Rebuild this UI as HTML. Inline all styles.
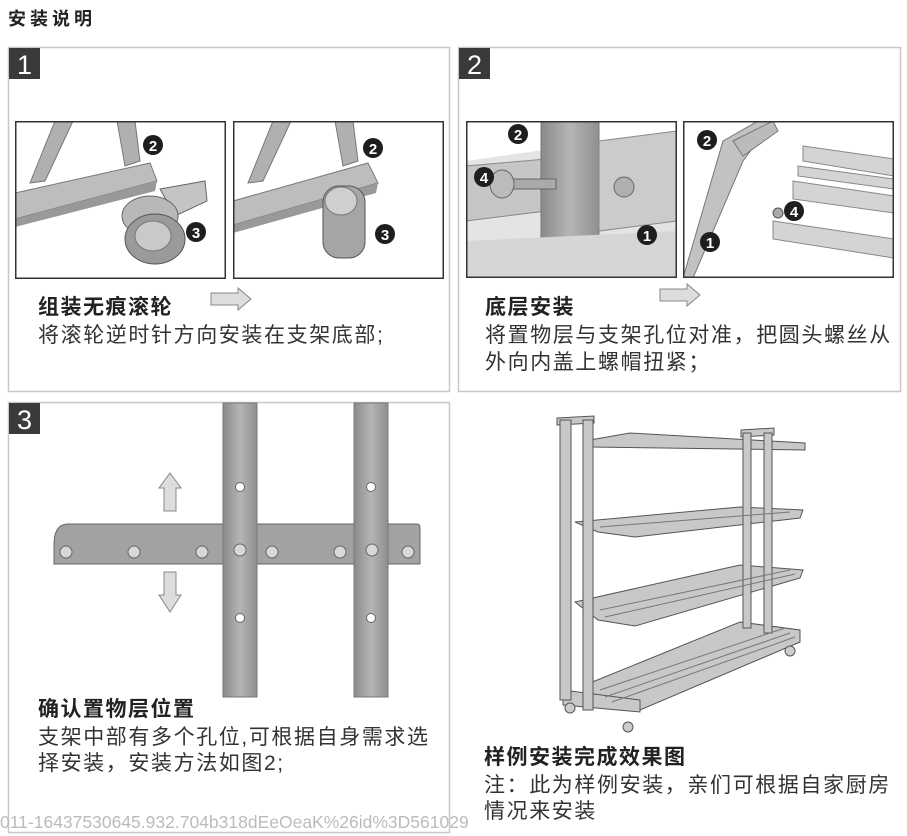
<!DOCTYPE html>
<html><head><meta charset="utf-8"><style>
body{margin:0;background:#fff;width:907px;height:836px;overflow:hidden;position:relative;font-family:"Liberation Sans","Noto Sans CJK SC",sans-serif;color:#333}
.t{position:absolute;white-space:nowrap;line-height:26px}
.b{font-weight:bold;font-size:21px;color:#222;letter-spacing:1.5px}
.n{font-size:21px;color:#333;letter-spacing:1.6px}
</style></head><body>
<svg width="907" height="836" style="position:absolute;left:0;top:0">
<defs>
<linearGradient id="bar" x1="0" x2="1"><stop offset="0" stop-color="#8a8a8a"/><stop offset=".5" stop-color="#b5b5b5"/><stop offset="1" stop-color="#8f8f8f"/></linearGradient>
</defs>
<rect x="8.5" y="47.5" width="441" height="344" fill="none" stroke="#c8c8c8" stroke-width="1.5"/>
<rect x="458.5" y="47.5" width="442" height="344" fill="none" stroke="#c8c8c8" stroke-width="1.5"/>
<rect x="8.5" y="402.5" width="441" height="430" fill="none" stroke="#c8c8c8" stroke-width="1.5"/>
<rect x="9" y="48" width="31" height="31" fill="#3a3a3a"/>
<rect x="459" y="48" width="31" height="31" fill="#3a3a3a"/>
<rect x="9" y="403" width="31" height="31" fill="#3a3a3a"/>
<text x="24.5" y="74" font-size="27" fill="#fff" text-anchor="middle" font-family="Liberation Sans">1</text>
<text x="474.5" y="74" font-size="27" fill="#fff" text-anchor="middle" font-family="Liberation Sans">2</text>
<text x="24.5" y="429" font-size="27" fill="#fff" text-anchor="middle" font-family="Liberation Sans">3</text>

<svg x="15" y="121" width="211" height="158">
<rect width="211" height="158" fill="#fff"/>
<polygon points="40,0 58,0 30,60 15,62" fill="#b0b0b0" stroke="#777"/>
<polygon points="102,0 120,0 125,40 110,45" fill="#b0b0b0" stroke="#777"/>
<polygon points="0,72 135,42 142,60 0,98" fill="#bdbdbd" stroke="#777"/>
<polygon points="0,98 142,60 140,70 0,106" fill="#999"/>
<polygon points="145,68 190,60 192,80 160,95" fill="#c4c4c4" stroke="#666"/>
<ellipse cx="135" cy="95" rx="28" ry="20" fill="#b8b8b8" stroke="#666"/>
<ellipse cx="140" cy="118" rx="30" ry="25" fill="#9a9a9a" stroke="#555"/>
<ellipse cx="138" cy="115" rx="18" ry="15" fill="#c9c9c9" stroke="#777"/>
<circle cx="138" cy="24" r="10" fill="#1e1e1e"/><text x="138" y="30" fill="#fff" font-size="15" font-weight="bold" text-anchor="middle">2</text>
<circle cx="181" cy="111" r="10" fill="#1e1e1e"/><text x="181" y="117" fill="#fff" font-size="15" font-weight="bold" text-anchor="middle">3</text>
<rect x=".75" y=".75" width="209.5" height="156.5" fill="none" stroke="#333" stroke-width="1.5"/>
</svg>
<svg x="233" y="121" width="211" height="158">
<rect width="211" height="158" fill="#fff"/>
<polygon points="40,0 58,0 30,60 15,62" fill="#b0b0b0" stroke="#777"/>
<polygon points="102,0 120,0 125,40 110,45" fill="#b0b0b0" stroke="#777"/>
<polygon points="0,80 135,42 145,62 0,104" fill="#bdbdbd" stroke="#777"/>
<polygon points="0,104 145,62 143,72 0,112" fill="#999"/>
<rect x="90" y="65" width="42" height="72" rx="16" fill="#a5a5a5" stroke="#555"/>
<ellipse cx="108" cy="80" rx="16" ry="14" fill="#cfcfcf" stroke="#777"/>
<circle cx="152" cy="113" r="10" fill="#1e1e1e"/><text x="152" y="119" fill="#fff" font-size="15" font-weight="bold" text-anchor="middle">3</text>
<circle cx="140" cy="27" r="10" fill="#1e1e1e"/><text x="140" y="33" fill="#fff" font-size="15" font-weight="bold" text-anchor="middle">2</text>
<rect x=".75" y=".75" width="209.5" height="156.5" fill="none" stroke="#333" stroke-width="1.5"/>
</svg>
<polygon points="211,293 238,293 238,288 251,299 238,310 238,305 211,305" fill="#ddd" stroke="#888"/>
<polygon points="660,289 687,289 687,284 700,295 687,306 687,301 660,301" fill="#ddd" stroke="#888"/>

<svg x="466" y="121" width="211" height="157">
<rect width="211" height="157" fill="#fff"/>
<polygon points="0,40 211,10 211,110 0,130" fill="#e4e4e4"/>
<polygon points="0,45 80,38 80,90 0,100" fill="#c6c6c6" stroke="#888"/>
<rect x="75" y="0" width="58" height="145" fill="url(#bar)" stroke="#777"/>
<polygon points="133,20 211,10 211,100 133,110" fill="#cbcbcb" stroke="#888"/>
<rect x="30" y="58" width="60" height="10" fill="#aaa" stroke="#666"/>
<ellipse cx="36" cy="63" rx="12" ry="14" fill="#bbb" stroke="#666"/>
<circle cx="158" cy="66" r="10" fill="#b0b0b0" stroke="#666"/>
<polygon points="0,120 211,110 211,157 0,157" fill="#d6d6d6"/>
<circle cx="52" cy="13" r="10" fill="#1e1e1e"/><text x="52" y="19" fill="#fff" font-size="15" font-weight="bold" text-anchor="middle">2</text>
<circle cx="18" cy="56" r="10" fill="#1e1e1e"/><text x="18" y="62" fill="#fff" font-size="15" font-weight="bold" text-anchor="middle">4</text>
<circle cx="181" cy="114" r="10" fill="#1e1e1e"/><text x="181" y="120" fill="#fff" font-size="15" font-weight="bold" text-anchor="middle">1</text>
<rect x=".75" y=".75" width="209.5" height="155.5" fill="none" stroke="#333" stroke-width="1.5"/>
</svg>
<svg x="683" y="121" width="211" height="157">
<rect width="211" height="157" fill="#fff"/>
<polygon points="40,20 75,0 90,0 60,40 10,157 0,157" fill="#c2c2c2" stroke="#777"/>
<polygon points="50,20 90,0 95,10 60,35" fill="#bbb" stroke="#777"/>
<g fill="#d4d4d4" stroke="#888">
<polygon points="120,25 211,38 211,55 120,40"/>
<polygon points="110,60 211,75 211,92 110,78"/>
<polygon points="90,100 211,118 211,137 90,118"/>
<polygon points="115,45 211,58 211,68 115,55"/>
</g>
<circle cx="95" cy="92" r="5" fill="#aaa" stroke="#555"/>
<circle cx="24" cy="19" r="10" fill="#1e1e1e"/><text x="24" y="25" fill="#fff" font-size="15" font-weight="bold" text-anchor="middle">2</text>
<circle cx="111" cy="90" r="10" fill="#1e1e1e"/><text x="111" y="96" fill="#fff" font-size="15" font-weight="bold" text-anchor="middle">4</text>
<circle cx="27" cy="121" r="10" fill="#1e1e1e"/><text x="27" y="127" fill="#fff" font-size="15" font-weight="bold" text-anchor="middle">1</text>
<rect x=".75" y=".75" width="209.5" height="155.5" fill="none" stroke="#333" stroke-width="1.5"/>
</svg>

<path d="M68,524 L417,524 Q420,524 420,528 L420,564 L54,564 L54,545 Q54,524 68,524 Z" fill="#a2a2a2" stroke="#666"/>
<rect x="223" y="403" width="34" height="294" fill="url(#bar)" stroke="#777"/>
<rect x="354" y="403" width="34" height="294" fill="url(#bar)" stroke="#777"/>
<g fill="#fff" stroke="#666"><circle cx="240" cy="487" r="4.5"/><circle cx="371" cy="487" r="4.5"/><circle cx="240" cy="618" r="4.5"/><circle cx="371" cy="618" r="4.5"/></g>
<g fill="#d8d8d8" stroke="#666"><circle cx="66" cy="552" r="6"/><circle cx="134" cy="552" r="6"/><circle cx="202" cy="552" r="6"/><circle cx="240" cy="550" r="6"/><circle cx="272" cy="552" r="6"/><circle cx="340" cy="552" r="6"/><circle cx="372" cy="550" r="6"/><circle cx="408" cy="552" r="6"/></g>
<polygon points="164,511 164,488 159,488 170,473 181,488 176,488 176,511" fill="#ddd" stroke="#888"/>
<polygon points="164,572 176,572 176,595 181,595 170,612 159,595 164,595" fill="#ddd" stroke="#888"/>

<g stroke="#555" stroke-width="1" fill="#c8c8c8">
<polygon points="557,418 594,416 594,423 557,425"/>
<polygon points="741,430 774,428 774,435 741,437"/>
<polygon points="590,440 630,433 805,443 805,450 590,447"/>
<polygon points="575,522 740,507 803,510 800,518 635,537 598,532"/>
<polygon points="575,602 740,565 803,570 800,578 635,626 598,620"/>
<polygon points="585,685 740,622 800,630 800,642 640,710 585,700"/>
<polygon points="563,690 640,700 640,712 563,705"/>
<rect x="560" y="420" width="11" height="280"/>
<rect x="583" y="420" width="10" height="290"/>
<rect x="743" y="433" width="8" height="195"/>
<rect x="764" y="433" width="8" height="200"/>
</g>
<g stroke="#777" stroke-width="1">
<line x1="600" y1="690" x2="785" y2="628"/><line x1="605" y1="697" x2="790" y2="633"/><line x1="612" y1="702" x2="795" y2="637"/>
<line x1="600" y1="610" x2="790" y2="570"/><line x1="605" y1="617" x2="795" y2="574"/>
<line x1="600" y1="527" x2="790" y2="512"/>
</g>
<g fill="#ccc" stroke="#555"><circle cx="570" cy="708" r="5"/><circle cx="628" cy="727" r="5"/><circle cx="790" cy="651" r="5"/></g>

<text x="0" y="828" font-size="17.5" fill="#bbb" font-family="Liberation Sans">011-16437530645.932.704b318dEeOeaK%26id%3D561029</text>
</svg>
<div class="t b" style="left:8px;top:6px;font-size:18px;letter-spacing:4px">安装说明</div>
<div class="t b" style="left:38px;top:295px">组装无痕滚轮</div>
<div class="t n" style="left:38px;top:323px">将滚轮逆时针方向安装在支架底部;</div>
<div class="t b" style="left:485px;top:295px">底层安装</div>
<div class="t n" style="left:485px;top:323px">将置物层与支架孔位对准，把圆头螺丝从</div>
<div class="t n" style="left:485px;top:350px">外向内盖上螺帽扭紧；</div>
<div class="t b" style="left:38px;top:697px">确认置物层位置</div>
<div class="t n" style="left:38px;top:725px">支架中部有多个孔位,可根据自身需求选</div>
<div class="t n" style="left:38px;top:751px">择安装，安装方法如图2;</div>
<div class="t b" style="left:484px;top:745px">样例安装完成效果图</div>
<div class="t n" style="left:484px;top:773px">注：此为样例安装，亲们可根据自家厨房</div>
<div class="t n" style="left:484px;top:799px">情况来安装</div>
</body></html>
